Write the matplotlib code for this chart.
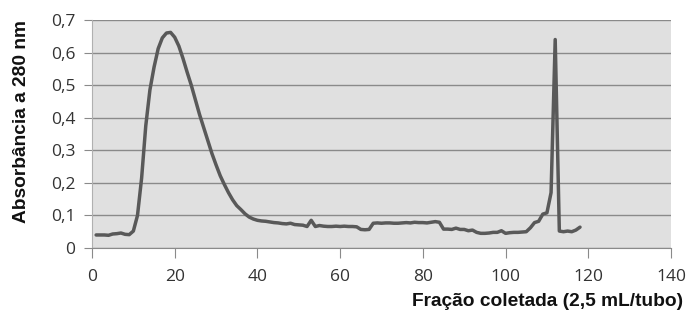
import matplotlib
matplotlib.use("Agg")
import matplotlib.pyplot as plt
from matplotlib.ticker import FuncFormatter

# fraction number and absorbance at 280 nm
fracao = list(range(1, 119))
absorb = [0.040, 0.040, 0.040, 0.039, 0.043, 0.044, 0.046, 0.042, 0.041, 0.052,
          0.100, 0.215, 0.375, 0.485, 0.555, 0.612, 0.645, 0.660, 0.662, 0.647,
          0.620, 0.582, 0.540, 0.500, 0.455, 0.410, 0.370, 0.330, 0.290, 0.255,
          0.222, 0.195, 0.170, 0.148, 0.130, 0.118, 0.105, 0.095, 0.089, 0.085,
          0.083, 0.082, 0.080, 0.078, 0.077, 0.075, 0.074, 0.076, 0.072, 0.071,
          0.070, 0.066, 0.085, 0.066, 0.069, 0.067, 0.066, 0.066, 0.067, 0.066,
          0.067, 0.066, 0.066, 0.065, 0.057, 0.056, 0.057, 0.076, 0.077, 0.076,
          0.077, 0.077, 0.076, 0.076, 0.077, 0.078, 0.077, 0.079, 0.078, 0.078,
          0.077, 0.079, 0.081, 0.079, 0.058, 0.058, 0.057, 0.061, 0.057, 0.057,
          0.053, 0.055, 0.048, 0.045, 0.045, 0.046, 0.048, 0.048, 0.053, 0.045,
          0.047, 0.048, 0.048, 0.049, 0.050, 0.062, 0.078, 0.082, 0.104, 0.108,
          0.170, 0.640, 0.052, 0.050, 0.052, 0.050, 0.055, 0.064]

xticks = [0, 20, 40, 60, 80, 100, 120, 140]
yticks = [0, 0.1, 0.2, 0.3, 0.4, 0.5, 0.6, 0.7]

fig = plt.figure(figsize=(6.87, 3.13), dpi=100)
ax = fig.add_axes([92/687, 1-248/313, 579/687, 228/313])
ax.set_facecolor("#e0e0e0")

ax.plot(fracao, absorb, color="#595959", lw=2.5, solid_joinstyle="round", solid_capstyle="round")

ax.set_xlim(0, 140)
ax.set_ylim(0, 0.7)
ax.set_xticks(xticks)
ax.set_yticks(yticks)
ax.yaxis.set_major_formatter(FuncFormatter(lambda v, p: "0" if v == 0 else f"{v:.1f}".replace(".", ",")))
ax.grid(axis="y", color="#8a8a8a", lw=1)
ax.set_axisbelow(True)

for s in ["top", "right"]:
    ax.spines[s].set_visible(False)
ax.spines["left"].set_color("#b0b0b0")
ax.spines["bottom"].set_color("#8a8a8a")
ax.tick_params(axis="y", length=6, color="#8a8a8a", pad=6, labelsize=12.5, labelcolor="#333333")
ax.tick_params(axis="x", length=7, color="#8a8a8a", pad=8, labelsize=12.5, labelcolor="#333333")
for lab in ax.get_xticklabels() + ax.get_yticklabels():
    lab.set_fontfamily("Open Sans")

fig.text(0.032, 0.613, "Absorbância a 280 nm", rotation=90, ha="center", va="center",
         fontsize=13.8, fontweight="bold", family="Liberation Sans", color="#111111")
fig.text(683/687, 1-301/313, "Fração coletada (2,5 mL/tubo)", ha="right", va="center",
         fontsize=13.8, fontweight="bold", family="Liberation Sans", color="#111111")

fig.savefig("out.png", dpi=100, facecolor="white")
